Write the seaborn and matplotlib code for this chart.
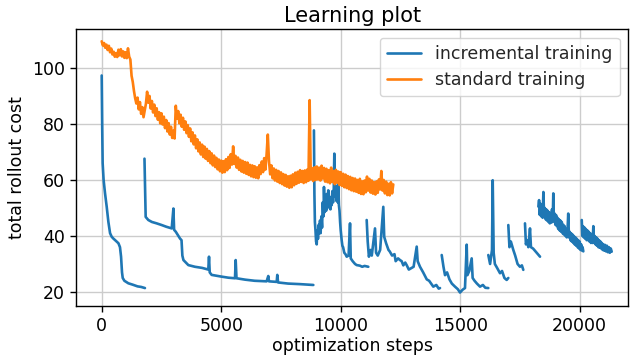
import numpy as np
import pandas as pd
import matplotlib
matplotlib.use("Agg")
import matplotlib.pyplot as plt
import seaborn as sns

nan = float("nan")

# ---- standard training (orange), logged every 50 steps ----
orange_cost = [
    109.5, 108.0, 108.9, 107.2, 108.3, 106.4, 107.9, 105.6, 106.9, 104.8,
    105.8, 104.0, 105.3, 103.9, 106.5, 104.5, 106.7, 104.1, 105.9, 103.6,
    105.6, 103.5, 107.0, 104.0, 103.0, 97.2, 95.0, 91.8, 89.2, 87.3,
    89.4, 85.2, 87.8, 83.6, 86.0, 82.4, 84.9, 87.2, 91.5, 87.6,
    90.0, 85.5, 88.2, 84.1, 86.9, 82.8, 85.6, 81.5, 84.2, 80.2,
    83.8, 79.8, 82.6, 78.5, 81.4, 77.3, 80.3, 76.2, 79.0, 75.0,
    77.6, 74.8, 86.5, 81.9, 84.6, 80.2, 83.3, 79.0, 82.2, 77.9,
    80.9, 76.7, 79.6, 75.4, 78.4, 73.8, 77.0, 72.7, 75.9, 71.3,
    74.5, 70.2, 73.4, 69.1, 72.6, 68.2, 71.9, 67.6, 71.1, 66.8,
    70.3, 66.0, 69.5, 65.2, 68.7, 64.6, 67.9, 63.8, 67.3, 63.1,
    66.9, 62.6, 66.7, 62.8, 67.4, 63.5, 68.2, 64.3, 69.2, 65.5,
    72.0, 65.7, 68.6, 64.4, 68.0, 63.6, 67.2, 63.0, 66.8, 62.6,
    66.4, 62.2, 66.2, 61.8, 65.4, 61.3, 65.2, 61.0, 64.9, 60.8,
    64.5, 60.6, 65.3, 62.1, 66.6, 62.8, 67.8, 63.7, 69.2, 76.2,
    66.6, 62.0, 65.2, 60.6, 64.1, 59.8, 63.6, 59.4, 63.2, 58.9,
    62.7, 58.5, 62.1, 58.0, 61.8, 57.6, 61.3, 57.2, 61.5, 57.4,
    62.0, 58.1, 62.6, 58.6, 62.9, 59.0, 63.5, 59.3, 63.2, 58.9,
    63.4, 59.2, 63.7, 59.7, 88.5, 60.2, 64.2, 59.6, 64.5, 60.0,
    64.8, 60.2, 64.4, 59.8, 65.1, 60.5, 64.3, 59.4, 64.0, 59.2,
    63.5, 58.8, 64.4, 59.3, 63.2, 58.5, 63.6, 59.0, 63.0, 58.2,
    62.8, 57.9, 62.2, 57.4, 61.9, 57.1, 61.4, 56.7, 61.1, 56.3,
    60.7, 56.0, 60.5, 55.8, 60.0, 55.4, 60.4, 55.0, 59.5, 54.9,
    59.8, 55.6, 61.2, 56.2, 60.4, 55.5, 59.8, 55.1, 59.2, 54.8,
    59.5, 55.4, 60.2, 56.6, 63.2, 56.2, 60.0, 55.2, 59.4, 54.6,
    58.6, 54.5, 59.2, 55.2, 58.4,
]
orange_steps = list(range(0, 50 * len(orange_cost), 50))

# ---- incremental training (blue), runs separated by NaN ----
blue_steps = [
    0, 20, 40, 80, 140, 210, 280, 350, 420, 485, 600, 700, 765, 810, 850, 880, 950,
    1115, 1300, 1500, 1650, 1810, nan,
    1790, 1820, 1840, 1950, 2100, 2300, 2510, 2700, 2930, 3000, 3030, 3100, 3276,
    3340, 3375, 3420, 3625, 3900, 4200, 4460, 4490, 4520, 4600, 5000, 5300, 5577,
    5606, 5640, 6000, 6400, 6900, 6970, 7000, 7322, 7347, 7380, 7800, 8300, 8855, nan,
    8880, 8900, 8920, 8945, 8970, 8996, 9020, 9050, 9080, 9110, 9134, 9160, 9190,
    9220, 9250, 9280, 9300, 9330, 9360, 9390, 9420, 9450, 9480, 9510, 9540, 9570,
    9600, 9623, 9650, 9680, 9710, 9733, 9760, 9790, 9820, 9850, 9880, 9900, 9925,
    9950, 9975, 10000, 10040, 10070, 10100, 10150, 10200, 10250, 10330, 10390,
    10420, 10500, 10600, 10670, 10800, 10900, 11000, 11155, nan,
    11087, 11130, 11180, 11250, 11300, 11435, 11480, 11550, 11650, 11782, 11820,
    11900, 12000, 12050, 12150, 12250, 12300, 12400, 12480, 12550, 12620, 12700,
    12760, 12850, 12950, 13050, 13180, 13220, 13318, 13450, 13600, 13700, 13874,
    14000, 14100, 14155, nan,
    14226, 14300, 14364, 14450, 14550, 14650, 14782, 14900, 14992, 15100, 15200,
    15272, 15300, 15380, 15480, 15520, 15600, 15700, 15830, 15950, 16050, 16176, nan,
    16176, 16250, 16330, 16360, 16400, 16450, 16550, 16665, 16750, 16850, 16945,
    17013, nan,
    17013, 17060, 17120, 17222, 17300, 17400, 17500, 17580, 17640, nan,
    17710, 17750, 17800, 17850, 17920, 17960, 18050, 18150, 18250, 18340, nan,
    18270, 18300, 18330, 18360, 18390, 18420, 18450, 18480, 18510, 18540, 18570,
    18600, 18630, 18660, 18690, 18720, 18750, 18780, 18810, 18840, 18870, 18895,
    18920, 18950, 18980, 19010, 19040, 19070, 19100, 19130, 19160, 19190, 19220,
    19250, 19280, 19314, 19340, 19370, 19400, 19430, 19460, 19490, 19520, 19550,
    19580, 19610, 19640, 19670, 19700, 19730, 19760, 19790, 19820, 19850, 19880,
    19910, 19940, 19970, 20000, 20030, 20060, 20090, 20120, 20151, nan,
    20085, 20110, 20140, 20170, 20200, 20230, 20260, 20290, 20320, 20350, 20380,
    20410, 20440, 20470, 20500, 20540, 20570, 20600, 20630, 20660, 20690, 20720,
    20750, 20780, 20810, 20840, 20870, 20900, 20930, 20960, 20990, 21020, 21060,
    21100, 21140, 21180, 21220, 21260, 21300, 21339,
]
blue_cost = [
    97.3, 80.0, 66.0, 60.0, 55.2, 50.4, 45.0, 41.0, 39.7, 39.1, 38.2, 37.4, 36.0,
    32.6, 27.0, 25.0, 24.0, 23.1, 22.6, 22.0, 21.8, 21.4, nan,
    67.6, 55.0, 46.8, 45.7, 45.0, 44.5, 43.9, 43.3, 42.7, 49.8, 42.2, 41.5, 39.1,
    38.5, 33.0, 31.4, 29.6, 29.0, 28.6, 28.0, 32.6, 27.0, 26.1, 25.5, 25.1, 24.9,
    31.4, 24.9, 24.4, 24.0, 23.8, 25.7, 23.8, 23.6, 26.1, 23.4, 23.0, 22.8, 22.5, nan,
    77.7, 55.0, 45.0, 42.0, 38.0, 37.0, 42.0, 39.0, 44.0, 41.0, 45.5, 41.0, 47.0,
    43.0, 52.0, 47.0, 57.5, 48.5, 54.0, 49.0, 55.0, 50.0, 56.3, 50.5, 54.0, 49.5,
    53.5, 51.0, 56.0, 52.0, 57.0, 69.4, 54.0, 58.0, 52.5, 57.0, 52.0, 58.7, 51.0,
    49.0, 45.0, 42.0, 38.5, 36.5, 36.0, 34.0, 33.5, 32.6, 33.0, 44.5,
    32.0, 31.0, 30.0, 29.6, 29.4, 29.0, 29.3, 29.0, nan,
    45.7, 38.0, 32.6, 35.0, 33.0, 42.7, 34.0, 33.0, 35.0, 50.4, 39.7,
    37.4, 35.0, 34.5, 33.0, 33.5, 31.0, 32.0, 31.4, 31.0, 29.5, 30.5,
    29.6, 28.0, 28.5, 29.0, 36.2, 31.0, 29.0, 27.0, 24.5, 24.0, 21.9,
    22.5, 21.2, 21.4, nan,
    33.2, 29.0, 26.0, 27.0, 24.5, 23.0, 21.9, 21.0, 19.8, 20.8, 21.4,
    36.9, 26.0, 27.5, 32.0, 25.0, 24.0, 23.0, 21.9, 22.5, 21.5, 21.4, nan,
    33.2, 30.0, 35.0, 59.9, 34.0, 30.0, 28.5, 26.7, 27.5, 25.0, 24.3,
    25.0, nan,
    43.9, 36.0, 38.0, 35.0, 33.0, 30.0, 29.0, 29.5, 27.9, nan,
    44.5, 37.0, 38.5, 36.0, 42.7, 36.0, 35.5, 34.5, 33.5, 32.6, nan,
    50.5, 52.8, 47.5, 51.5, 47.0, 50.5, 46.5, 55.7, 47.0, 50.0, 46.0,
    49.5, 45.5, 49.0, 45.0, 48.5, 44.5, 48.0, 44.8, 49.5, 45.0, 55.2,
    45.5, 48.0, 44.0, 47.5, 43.5, 46.5, 42.5, 46.0, 42.0, 45.5, 41.5,
    45.0, 41.0, 44.0, 40.5, 43.5, 40.0, 42.5, 39.5, 42.0, 48.0, 39.5,
    41.5, 38.5, 41.0, 38.0, 40.5, 37.5, 40.0, 37.0, 39.5, 36.5, 39.0,
    36.0, 38.5, 35.5, 38.0, 35.0, 37.0, 34.8, 36.0, 34.5, nan,
    45.7, 40.0, 43.5, 39.5, 43.0, 39.0, 42.5, 38.5, 42.0, 38.5, 41.5,
    38.0, 41.0, 37.5, 40.5, 37.5, 43.5, 37.5, 40.0, 37.0, 39.5, 36.5,
    39.0, 36.0, 38.5, 35.8, 38.0, 35.5, 37.5, 35.0, 37.0, 34.8, 36.8,
    34.5, 36.5, 34.2, 36.0, 34.0, 35.5, 34.4,
]

series_labels = ["incremental training", "standard training"]
x_ticks = [0, 5000, 10000, 15000, 20000]
y_ticks = [20, 40, 60, 80, 100]

# ---- build long table with one unit per uninterrupted run ----
rows = []
seg = 0
for s, c in zip(blue_steps, blue_cost):
    if np.isnan(s):
        seg += 1
        continue
    rows.append((s, c, series_labels[0], f"b{seg}"))
for s, c in zip(orange_steps, orange_cost):
    rows.append((s, c, series_labels[1], "o0"))
df = pd.DataFrame(rows, columns=["steps", "cost", "series", "run"])

sns.set_theme(style="ticks")
plt.rcParams["font.family"] = ["DejaVu Sans"]
fs = 12.5
plt.rcParams.update({
    "axes.edgecolor": "black",
    "axes.linewidth": 1.0,
    "xtick.color": "black",
    "ytick.color": "black",
    "xtick.major.size": 4.4,
    "ytick.major.size": 4.4,
    "xtick.major.width": 1.0,
    "ytick.major.width": 1.0,
})

fig = plt.figure(figsize=(6.4, 3.63), dpi=100)
ax = fig.add_axes([76 / 640, 1 - 305.7 / 363, (628.3 - 76) / 640, (305.7 - 29) / 363])

sns.lineplot(
    data=df, x="steps", y="cost", hue="series", units="run", estimator=None,
    sort=False, palette=["#1f77b4", "#ff7f0e"], hue_order=series_labels,
    linewidth=1.9, ax=ax,
)

ax.set_xlim(-1075, 22033)
ax.set_ylim(15.1, 113.9)
ax.set_xticks(x_ticks)
ax.set_yticks(y_ticks)
ax.tick_params(labelsize=fs, colors="black")
ax.grid(True, color="#cccccc", linewidth=1.0)
ax.set_axisbelow(True)
ax.set_xlabel("optimization steps", fontsize=fs, color="black", labelpad=2)
ax.set_ylabel("total rollout cost", fontsize=fs, color="black", labelpad=4)
ax.set_title("Learning plot", fontsize=15, color="black", pad=5)

leg = ax.legend(loc="upper right", fontsize=fs, frameon=True, fancybox=True,
                framealpha=0.8, edgecolor="#cccccc", borderpad=0.4,
                handlelength=2.0)
for line in leg.get_lines():
    line.set_linewidth(1.9)

fig.savefig("out.png", dpi=100)
